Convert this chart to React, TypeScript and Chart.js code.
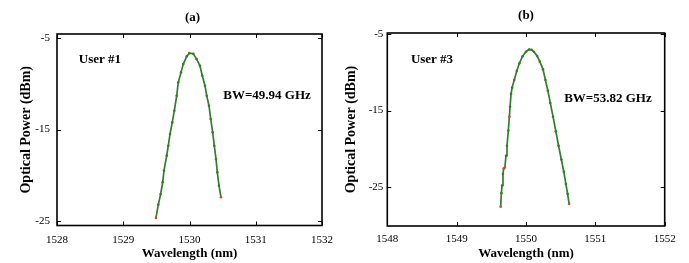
import React, { useEffect, useRef } from "react";
import { Chart, registerables } from "chart.js";

Chart.register(...registerables);

// ---------- data ----------
const WAVELENGTH_A = [
  1529.494, 1529.529, 1529.565, 1529.595, 1529.615, 1529.656, 1529.68, 1529.706,
  1529.74, 1529.771, 1529.807, 1529.83, 1529.872, 1529.906, 1529.958, 1529.997,
  1530.057, 1530.108, 1530.158, 1530.193, 1530.234, 1530.26, 1530.294, 1530.32,
  1530.35, 1530.374, 1530.4, 1530.42, 1530.445, 1530.475,
];
const POWER_A = [
  -24.67, -23.22, -22.05, -20.77, -19.5, -17.86, -16.77, -15.49,
  -14.22, -12.94, -11.3, -9.85, -8.75, -7.84, -7.0, -6.64,
  -6.71, -7.3, -8.03, -9.12, -10.21, -11.3, -12.4, -13.85,
  -15.3, -16.77, -18.22, -19.68, -21.14, -22.4,
];
const WAVELENGTH_B = [
  1549.635, 1549.645, 1549.655, 1549.668, 1549.678, 1549.695, 1549.712, 1549.726,
  1549.745, 1549.76, 1549.77, 1549.785, 1549.8, 1549.83, 1549.868, 1549.905,
  1549.95, 1550.0, 1550.045, 1550.08, 1550.115, 1550.16, 1550.2, 1550.245,
  1550.28, 1550.315, 1550.35, 1550.39, 1550.43, 1550.47, 1550.51, 1550.545,
  1550.575, 1550.6, 1550.622,
];
const POWER_B = [
  -27.57, -25.8, -24.8, -23.3, -22.6, -22.45, -20.9, -19.6,
  -17.6, -15.8, -14.5, -12.8, -12.0, -11.0, -9.8, -8.8,
  -7.9, -7.3, -7.0, -7.05, -7.3, -7.85, -8.6, -9.6,
  -11.0, -12.4, -14.0, -15.8, -17.7, -19.6, -21.4, -23.0,
  -24.6, -25.9, -27.2,
];
const RED_POINTS_A = [0, 29];
const RED_POINTS_B = [0, 4, 5, 9, 34];

const X_TICKS_A = [1528, 1529, 1530, 1531, 1532];
const X_TICKS_B = [1548, 1549, 1550, 1551, 1552];
const Y_TICKS = [-5, -15, -25];

const PANEL_A = "(a)";
const PANEL_B = "(b)";
const USER_A = "User #1";
const USER_B = "User #3";
const BW_A = "BW=49.94 GHz";
const BW_B = "BW=53.82 GHz";
const X_TITLE = "Wavelength (nm)";
const Y_TITLE = "Optical Power (dBm)";

// ---------- styling ----------
const SERIF = "'Liberation Serif', 'Times New Roman', Times, serif";
const LINE_COLOR = "#2f7f2f";
const POINT_COLOR = "#3f7a22";
const RED_COLOR = "#d2452a";

const framePlugin = {
  id: "frame",
  afterDatasetsDraw(chart: any, _args: any, opts: any) {
    const { ctx, chartArea: a, scales } = chart;
    const xs = scales.x;
    const ys = scales.y;
    ctx.save();
    ctx.strokeStyle = "#000";
    ctx.lineWidth = 1.6;
    ctx.strokeRect(a.left, a.top, a.right - a.left, a.bottom - a.top);
    ctx.lineWidth = 1;
    const L = 4;
    ctx.beginPath();
    xs.ticks.forEach((t: any) => {
      const px = Math.round(xs.getPixelForValue(t.value)) + 0.5;
      ctx.moveTo(px, a.bottom);
      ctx.lineTo(px, a.bottom - L);
      ctx.moveTo(px, a.top);
      ctx.lineTo(px, a.top + L);
    });
    ys.ticks.forEach((t: any) => {
      const py = Math.round(ys.getPixelForValue(t.value)) + 0.5;
      ctx.moveTo(a.left, py);
      ctx.lineTo(a.left + L, py);
      ctx.moveTo(a.right, py);
      ctx.lineTo(a.right - L, py);
    });
    ctx.stroke();

    ctx.fillStyle = "#000";
    ctx.textBaseline = "middle";
    ctx.font = `bold 13px ${SERIF}`;
    ctx.textAlign = "center";
    ctx.fillText(opts.title, (a.left + a.right) / 2 + opts.titleDx, opts.titleY);
    ctx.textAlign = "left";
    opts.notes.forEach((n: any) => {
      ctx.fillText(n.text, xs.getPixelForValue(n.x), ys.getPixelForValue(n.y));
    });
    ctx.restore();
  },
};

type PanelCfg = {
  xs: number[];
  ys: number[];
  red: number[];
  xTicks: number[];
  xMin: number;
  xMax: number;
  yMin: number;
  yMax: number;
  yAxisWidth: number;
  xAxisHeight: number;
  padTop: number;
  padRight: number;
  yTitlePad: number;
  yTickPad: number;
  xTickPad: number;
  title: string;
  titleDx: number;
  titleY: number;
  notes: { text: string; x: number; y: number }[];
};

function buildConfig(c: PanelCfg): any {
  const data = c.xs.map((x, i) => ({ x, y: c.ys[i] }));
  const pointColors = c.xs.map((_, i) => (c.red.includes(i) ? RED_COLOR : POINT_COLOR));
  return {
    type: "line",
    data: {
      datasets: [
        {
          data,
          borderColor: LINE_COLOR,
          borderWidth: 1.7,
          pointRadius: 1.3,
          pointBorderWidth: 0,
          pointBackgroundColor: pointColors,
          tension: 0,
          fill: false,
        },
      ],
    },
    options: {
      responsive: false,
      animation: false,
      devicePixelRatio: 1,
      layout: { padding: { top: c.padTop, right: c.padRight, bottom: 0, left: 0 } },
      plugins: {
        legend: { display: false },
        tooltip: { enabled: false },
        title: { display: false },
        frame: { title: c.title, titleDx: c.titleDx, titleY: c.titleY, notes: c.notes },
      },
      scales: {
        x: {
          type: "linear",
          min: c.xMin,
          max: c.xMax,
          afterBuildTicks: (s: any) => {
            s.ticks = c.xTicks.map((v) => ({ value: v }));
          },
          afterFit: (s: any) => {
            s.height = c.xAxisHeight;
          },
          grid: { display: false, drawTicks: false, tickLength: 0 },
          border: { display: false },
          ticks: {
            color: "#000",
            font: { family: SERIF, size: 11 },
            padding: c.xTickPad,
            maxRotation: 0,
            autoSkip: false,
            callback: (v: any) => String(v),
          },
          title: {
            display: true,
            text: X_TITLE,
            color: "#000",
            font: { family: SERIF, size: 13, weight: "bold" },
            padding: { top: 0, bottom: 1.2 },
          },
        },
        y: {
          type: "linear",
          min: c.yMin,
          max: c.yMax,
          afterBuildTicks: (s: any) => {
            s.ticks = Y_TICKS.map((v) => ({ value: v }));
          },
          afterFit: (s: any) => {
            s.width = c.yAxisWidth;
          },
          grid: { display: false, drawTicks: false, tickLength: 0 },
          border: { display: false },
          ticks: {
            color: "#000",
            font: { family: SERIF, size: 11 },
            padding: c.yTickPad,
            callback: (v: any) => String(v),
          },
          title: {
            display: true,
            text: Y_TITLE,
            color: "#000",
            font: { family: SERIF, size: 14, weight: "bold" },
            padding: { top: c.yTitlePad, bottom: 0 },
          },
        },
      },
    },
    plugins: [framePlugin],
  };
}

const CFG_A: PanelCfg = {
  xs: WAVELENGTH_A,
  ys: POWER_A,
  red: RED_POINTS_A,
  xTicks: X_TICKS_A,
  xMin: 1528,
  xMax: 1532,
  yMin: -25.5,
  yMax: -4.55,
  yAxisWidth: 57,
  xAxisHeight: 37.5,
  padTop: 34,
  padRight: 23,
  yTitlePad: 17.6,
  yTickPad: 7,
  xTickPad: 8,
  title: PANEL_A,
  titleDx: 3,
  titleY: 18,
  notes: [
    { text: USER_A, x: 1528.33, y: -7.4 },
    { text: BW_A, x: 1530.51, y: -11.3 },
  ],
};

const CFG_B: PanelCfg = {
  xs: WAVELENGTH_B,
  ys: POWER_B,
  red: RED_POINTS_B,
  xTicks: X_TICKS_B,
  xMin: 1548,
  xMax: 1552,
  yMin: -30.1,
  yMax: -4.85,
  yAxisWidth: 47.3,
  xAxisHeight: 37,
  padTop: 33,
  padRight: 24.3,
  yTitlePad: 2.6,
  yTickPad: 4,
  xTickPad: 7,
  title: PANEL_B,
  titleDx: 0,
  titleY: 16,
  notes: [
    { text: USER_B, x: 1548.34, y: -8.27 },
    { text: BW_B, x: 1550.55, y: -13.5 },
  ],
};

function Panel({ cfg, left, width }: { cfg: PanelCfg; left: number; width: number }) {
  const ref = useRef<HTMLCanvasElement>(null);
  useEffect(() => {
    const chart = new Chart(ref.current as HTMLCanvasElement, buildConfig(cfg));
    return () => chart.destroy();
  }, [cfg]);
  return (
    <canvas
      ref={ref}
      width={width}
      height={263}
      style={{ position: "absolute", left, top: 0, width, height: 263 }}
    />
  );
}

export default function App() {
  return (
    <div
      style={{
        position: "fixed",
        left: 0,
        top: 0,
        width: 689,
        height: 263,
        background: "#fff",
        overflow: "hidden",
      }}
    >
      <Panel cfg={CFG_A} left={0} width={345} />
      <Panel cfg={CFG_B} left={340} width={349} />
    </div>
  );
}
